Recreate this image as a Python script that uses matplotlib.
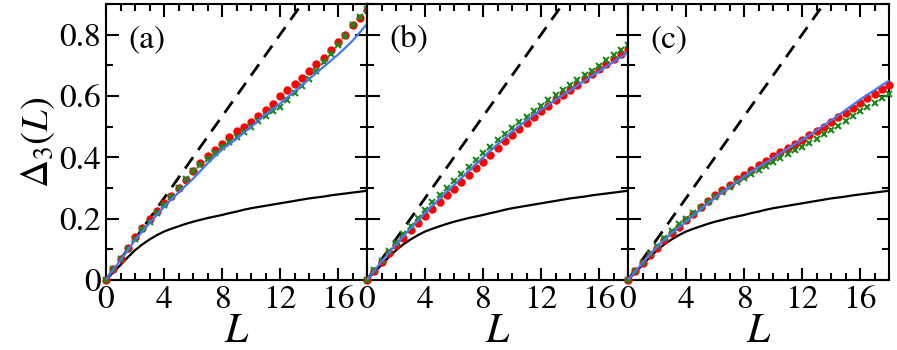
import matplotlib
matplotlib.use("Agg")
import matplotlib.pyplot as plt
from matplotlib.ticker import MultipleLocator, FuncFormatter

plt.rcParams.update({
    "font.family": "STIXGeneral",
    "mathtext.fontset": "stix",
    "axes.linewidth": 1.5,
})

# ---- data -------------------------------------------------------------------
L_GRID = [0.0, 0.5, 1.0, 1.5, 2.0, 2.5, 3.0, 3.5, 4.0, 4.5, 5.0, 5.5, 6.0, 6.5,
          7.0, 7.5, 8.0, 8.5, 9.0, 9.5, 10.0, 10.5, 11.0, 11.5, 12.0, 12.5,
          13.0, 13.5, 14.0, 14.5, 15.0, 15.5, 16.0, 16.5, 17.0, 17.5, 18.0]

POISSON_L = [0.0, 18.0]
POISSON = [0.0, 1.2]

GOE = [0, .025, .049, .074, .097, .116, .132, .146, .158, .167,
       .175, .183, .19, .196, .202, .207, .212, .218, .223, .229,
       .234, .238, .242, .246, .25, .254, .258, .262, .266, .269,
       .272, .276, .279, .282, .285, .288, .291]

RED_A = [0, .035, .07, .105, .14, .17, .2, .225, .25, .275,
         .3, .325, .355, .38, .405, .425, .445, .465, .485, .5,
         .515, .535, .555, .575, .6, .62, .64, .66, .68, .705,
         .725, .75, .775, .8, .83, .855, .88]
GREEN_A = [0, .035, .07, .1, .135, .165, .19, .218, .245, .272,
           .3, .328, .355, .375, .395, .415, .435, .45, .465, .483,
           .5, .517, .535, .55, .565, .588, .61, .632, .655, .683,
           .71, .737, .765, .797, .83, .858, .885]
BLUE_A = [0, .033, .065, .098, .13, .158, .185, .212, .238, .262,
          .285, .308, .33, .355, .38, .403, .425, .443, .46, .48,
          .5, .52, .54, .557, .575, .595, .615, .635, .655, .675,
          .695, .715, .735, .757, .78, .807, .835]

RED_B = [0, .03, .06, .087, .113, .138, .162, .185, .208, .231,
         .254, .276, .298, .32, .342, .364, .386, .408, .43, .452,
         .473, .493, .513, .532, .551, .569, .586, .603, .62, .637,
         .654, .671, .688, .704, .72, .736, .752]
GREEN_B = [0, .032, .063, .093, .122, .15, .177, .203, .228, .253,
           .277, .3, .323, .346, .369, .391, .413, .434, .455, .475,
           .495, .514, .533, .551, .569, .586, .603, .619, .635, .651,
           .667, .683, .699, .716, .733, .749, .765]
BLUE_B = [0, .03, .06, .088, .115, .142, .168, .193, .218, .242,
          .265, .288, .31, .333, .355, .378, .4, .422, .443, .463,
          .483, .502, .52, .538, .555, .571, .587, .603, .618, .634,
          .649, .665, .68, .696, .711, .727, .742]

RED_C = [0, .028, .055, .08, .105, .13, .153, .174, .195, .216,
         .237, .257, .276, .294, .311, .328, .344, .359, .374, .389,
         .404, .418, .432, .445, .458, .472, .486, .5, .515, .53,
         .545, .561, .577, .593, .608, .623, .637]
GREEN_C = [0, .028, .056, .085, .112, .137, .16, .181, .2, .218,
           .236, .253, .27, .287, .303, .318, .333, .347, .36, .373,
           .386, .399, .411, .423, .435, .448, .461, .475, .489, .503,
           .518, .534, .55, .564, .578, .592, .605]
BLUE_C = [0, .028, .055, .082, .108, .13, .152, .171, .19, .21,
          .23, .249, .268, .286, .303, .32, .337, .353, .368, .383,
          .398, .413, .428, .443, .457, .472, .488, .504, .52, .537,
          .554, .571, .588, .604, .619, .635, .65]

PANEL_LABELS = ["(a)", "(b)", "(c)"]
X_TICKS = [0, 4, 8, 12, 16]
Y_TICKS = [0, 0.2, 0.4, 0.6, 0.8]

RED_COL = "#ff0000"
GREEN_COL = "#1a8a1a"
BLUE_COL = "#3f7bf2"

panels = [(RED_A, GREEN_A, BLUE_A), (RED_B, GREEN_B, BLUE_B), (RED_C, GREEN_C, BLUE_C)]

fig = plt.figure(figsize=(8.97, 3.5), dpi=100)
x0, w, b, h = 106/897, 261/897, 70/350, 276/350

for i, (red, green, blue) in enumerate(panels):
    ax = fig.add_axes([x0 + i*w, b, w, h])
    ax.plot(POISSON_L, POISSON, color="black", lw=2.0, dashes=(5, 3.2), zorder=2)
    ax.plot(L_GRID, GOE, color="black", lw=1.6, zorder=2)
    ax.plot(L_GRID, red, "o", color=RED_COL, ms=5, mec=RED_COL, clip_on=False, zorder=3)
    ax.plot(L_GRID, green, "x", color=GREEN_COL, ms=5, mew=1.5, clip_on=False, zorder=4)
    ax.plot(L_GRID, blue, color=BLUE_COL, lw=1.6, zorder=5)

    ax.set_xlim(0, 18)
    ax.set_ylim(0, 0.9)
    ax.set_xticks(X_TICKS)
    ax.xaxis.set_minor_locator(MultipleLocator(1))
    ax.yaxis.set_minor_locator(MultipleLocator(0.1))
    ax.set_yticks(Y_TICKS)
    ax.tick_params(which="both", direction="in", top=True, right=True, width=1.5,
                   labelsize=24)
    ax.tick_params(which="major", length=9)
    ax.tick_params(which="minor", length=5)
    ax.tick_params(axis="x", pad=4)
    ax.xaxis.set_major_formatter(FuncFormatter(lambda v, p: f"{v:g}"))
    if i == 0:
        ax.yaxis.set_major_formatter(FuncFormatter(lambda v, p: f"{v:g}"))
        ax.set_ylabel(r"$\Delta_3(L)$", fontsize=28, labelpad=2)
    else:
        ax.set_yticklabels([])
    ax.set_xlabel(r"$L$", fontsize=30, labelpad=-1)
    ax.text(0.085, 0.87, PANEL_LABELS[i], transform=ax.transAxes, fontsize=24,
            ha="left", va="center")

fig.savefig("out.png", dpi=100)
